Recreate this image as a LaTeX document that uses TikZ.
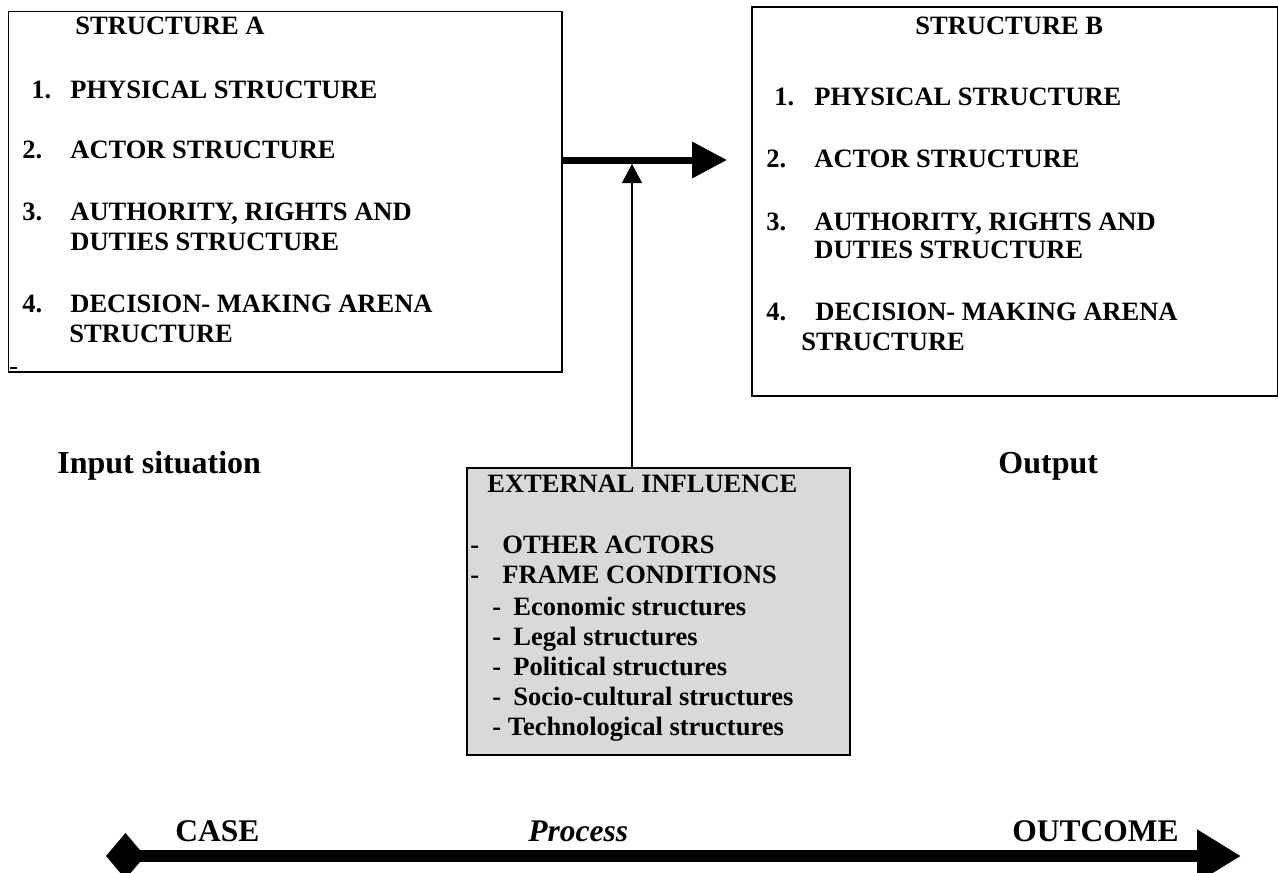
\documentclass[tikz,border=0pt]{standalone}
\usepackage{fontspec}
\setmainfont{Liberation Serif}
\usetikzlibrary{arrows.meta}
\tikzset{
  panel/.style={draw, line width=0.85pt, inner sep=0pt, anchor=north west},
  txt/.style={anchor=base west, inner sep=0pt, font=\fontsize{13.25}{16}\selectfont\bfseries},
  bigtxt/.style={anchor=base west, inner sep=0pt, font=\fontsize{16}{19}\selectfont\bfseries},
}

\begin{document}
\begin{tikzpicture}[x=0.5pt,y=-0.5pt]
        \useasboundingbox (0,0) rectangle (1278,872);

        % Draw the three boxes
        \node[panel, minimum width=276.65pt, minimum height=180.15pt] (boxA) at (7.7,10.7) {};
        \node[panel, minimum width=263pt, minimum height=194.5pt] (boxB) at (751,6) {};
        \node[panel, fill=black!15, minimum width=191.5pt, minimum height=143.5pt] (extbox) at (466,467) {};

        % Structure A
        \node[txt] (aTitle) at (75,35) {STRUCTURE A};
        \node[txt] (aNum1) at (31,98) {1.};
        \node[txt] (aPhys) at (70,98) {PHYSICAL STRUCTURE};
        \node[txt] (aNum2) at (22,158) {2.};
        \node[txt] (aActor) at (70,158) {ACTOR STRUCTURE};
        \node[txt] (aNum3) at (22,220) {3.};
        \node[txt] (aAuth) at (70,220) {AUTHORITY, RIGHTS AND};
        \node[txt] (aDuty) at (70,250) {DUTIES STRUCTURE};
        \node[txt] (aNum4) at (22,312) {4.};
        \node[txt] (aDec) at (70,312) {DECISION- MAKING ARENA};
        \node[txt] (aArena) at (69,342) {STRUCTURE};
        \draw[line width=1.2pt] (10,368) -- (17,368);

        % Structure B
        \node[txt] (bTitle) at (915,35) {STRUCTURE B};
        \node[txt] (bNum1) at (774,105) {1.};
        \node[txt] (bPhys) at (814,105) {PHYSICAL STRUCTURE};
        \node[txt] (bNum2) at (766,167) {2.};
        \node[txt] (bActor) at (814,167) {ACTOR STRUCTURE};
        \node[txt] (bNum3) at (766,230) {3.};
        \node[txt] (bAuth) at (814,230) {AUTHORITY, RIGHTS AND};
        \node[txt] (bDuty) at (814,258) {DUTIES STRUCTURE};
        \node[txt] (bNum4) at (766,320) {4.};
        \node[txt] (bDec) at (815,320) {DECISION- MAKING ARENA};
        \node[txt] (bArena) at (801,350) {STRUCTURE};

        % External influence
        \node[txt] (extTitle) at (487,492) {EXTERNAL INFLUENCE};
        \node[txt] (extDash1) at (470,553) {-};
        \node[txt] (extActors) at (502,553) {OTHER ACTORS};
        \node[txt] (extDash2) at (470,583) {-};
        \node[txt] (extFrame) at (502,583) {FRAME CONDITIONS};
        \node[txt] (extDash3) at (492,615) {-};
        \node[txt] (extEcon) at (513,615) {Economic structures};
        \node[txt] (extDash4) at (492,645) {-};
        \node[txt] (extLegal) at (513,645) {Legal structures};
        \node[txt] (extDash5) at (492,675) {-};
        \node[txt] (extPol) at (513,675) {Political structures};
        \node[txt] (extDash6) at (492,705) {-};
        \node[txt] (extSocio) at (513,705) {Socio-cultural structures};
        \node[txt] (extTech) at (492,735) {- Technological structures};

        % Situation labels
        \node[bigtxt] (input) at (57,473) {Input situation};
        \node[bigtxt] (output) at (998,473) {Output};

        % Arrows between the boxes
        \coordinate (flowtip) at (727,160);
        \coordinate (infl) at (632,164);
        \draw[line width=3.5pt, -{Triangle[length=17.5pt,width=17.5pt]}] (boxA.east |- flowtip) -- (flowtip);
        \draw[line width=0.65pt, -{Triangle[length=9.5pt,width=10pt]}] (infl |- extbox.north) -- (infl);

        % Process line
        \coordinate (casestart) at (106,856);
        \coordinate (outend) at (1241,856);
        \draw[line width=6pt, {Diamond[length=19.5pt,width=23pt]}-{Triangle[length=22pt,width=25pt]}] (casestart) -- (outend);
        \node[bigtxt, font=\fontsize{15.75}{19}\selectfont\bfseries] (case) at (175,841) {CASE};
        \node[bigtxt, font=\fontsize{15.75}{19}\selectfont\bfseries\itshape] (process) at (528,841) {Process};
        \node[bigtxt, font=\fontsize{15.75}{19}\selectfont\bfseries] (outcome) at (1012,841) {OUTCOME};
    \end{tikzpicture}
\end{document}
